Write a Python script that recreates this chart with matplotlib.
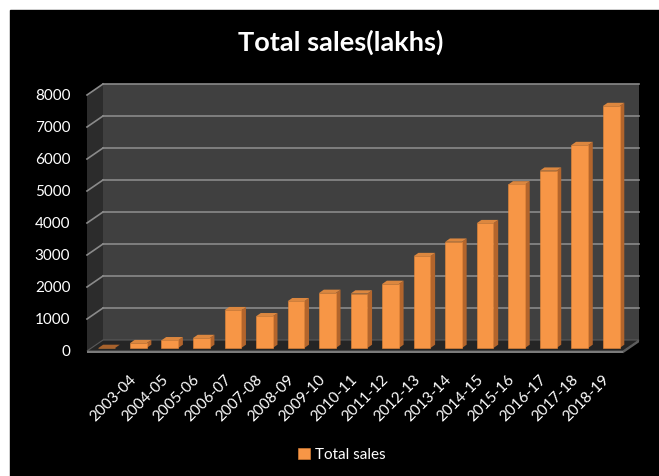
import matplotlib
matplotlib.use("Agg")
import matplotlib.pyplot as plt
from matplotlib.patches import Polygon, Rectangle
import numpy as np

plt.rcParams['font.family'] = ['Lato', 'DejaVu Sans']

title = "Total sales(lakhs)"
series_name = "Total sales"
categories = ["", "2003-04", "2004-05", "2005-06", "2006-07", "2007-08", "2008-09",
              "2009-10", "2010-11", "2011-12", "2012-13", "2013-14", "2014-15",
              "2015-16", "2016-17", "2017-18", "2018-19"]
values = [0, 150, 240, 310, 1180, 990, 1460, 1720, 1700, 2000, 2870, 3320,
          3900, 5110, 5540, 6340, 7560]
y_ticks = [0, 1000, 2000, 3000, 4000, 5000, 6000, 7000, 8000]

W, H = 659, 476
fig = plt.figure(figsize=(W / 100, H / 100), dpi=100)
fig.patch.set_facecolor('white')
# black chart area (white margin at left/top)
fig.patches.append(Rectangle((10 / W, 0), (W - 10) / W, (H - 10) / H,
                             transform=fig.transFigure, color='black', zorder=-10))

# front plane axes
L, R, T, B = 87, 623, 95, 351
ax = fig.add_axes([L / W, (H - B) / H, (R - L) / W, (B - T) / H])
ax.set_facecolor('none')
for s in ax.spines.values():
    s.set_visible(False)
n = len(categories)
x = np.arange(n)
ax.set_xlim(-0.5, n - 0.5)
ax.set_ylim(0, 8000)

# pixel -> data scales
px_x = (n) / (R - L)
px_y = 8000 / (B - T)

ddx, ddy = 16 * px_x, 11 * px_y          # depth of chart box
fx, fy = 4 * px_x, 3 * px_y              # bar front face offset
sx, sy = 4.7 * px_x, 3.3 * px_y          # bar depth
bw = 0.53

x0, x1 = -0.5, n - 0.5
# back wall
ax.add_patch(Polygon([(x0 + ddx, ddy), (x1 + ddx, ddy), (x1 + ddx, 8000 + ddy), (x0 + ddx, 8000 + ddy)],
                     closed=True, facecolor='#404040', edgecolor='none', clip_on=False, zorder=1))
# left wall
ax.add_patch(Polygon([(x0, 0), (x0, 8000), (x0 + ddx, 8000 + ddy), (x0 + ddx, ddy)],
                     closed=True, facecolor='#2c2c2c', edgecolor='none', clip_on=False, zorder=1))
# gridlines
for v in y_ticks[1:]:
    ax.plot([x0 + ddx, x1 + ddx], [v + ddy, v + ddy], color='#8a8a8a', lw=1.2, clip_on=False, zorder=2)
    ax.plot([x0, x0 + ddx], [v, v + ddy], color='#8a8a8a', lw=1.2, clip_on=False, zorder=2)
# floor
ax.add_patch(Polygon([(x0, 0), (x1, 0), (x1 + ddx, ddy), (x0 + ddx, ddy)],
                     closed=True, facecolor='#252525', edgecolor='#5a5a5a', lw=0.8, clip_on=False, zorder=2))
slab = 2.3 * px_y
ax.add_patch(Polygon([(x0, 0), (x1, 0), (x1, -slab), (x0, -slab)],
                     closed=True, facecolor='#7a7a7a', edgecolor='none', clip_on=False, zorder=2))
ax.add_patch(Polygon([(x1, 0), (x1 + ddx, ddy), (x1 + ddx, ddy - slab), (x1, -slab)],
                     closed=True, facecolor='#5e5e5e', edgecolor='none', clip_on=False, zorder=2))

# bars
front_col, side_col, top_col = '#F79646', '#B3652C', '#DC873F'
for xi, v in zip(x, values):
    cx = xi + fx
    ax.add_patch(Polygon([(cx + bw / 2, fy), (cx + bw / 2, fy + v), (cx + bw / 2 + sx, fy + v + sy),
                          (cx + bw / 2 + sx, fy + sy)], closed=True, facecolor=side_col,
                         edgecolor='none', clip_on=False, zorder=3))
    ax.add_patch(Polygon([(cx - bw / 2, fy + v), (cx + bw / 2, fy + v), (cx + bw / 2 + sx, fy + v + sy),
                          (cx - bw / 2 + sx, fy + v + sy)], closed=True,
                         facecolor=top_col if v > 0 else '#A8622C',
                         edgecolor='none', clip_on=False, zorder=3))
ax.bar(x + fx, values, width=bw, bottom=fy, color=front_col, label=series_name,
       zorder=4, clip_on=False, edgecolor='#E88838', linewidth=0.4)

# ticks
ax.set_yticks(y_ticks)
ax.set_yticklabels([str(v) for v in y_ticks])
ax.tick_params(axis='y', length=0, pad=12, labelcolor='white', labelsize=11)
ax.set_xticks(x)
ax.set_xticklabels(categories, rotation=45, ha='right', va='center', rotation_mode='anchor')
ax.tick_params(axis='x', length=0, pad=19, labelcolor='white', labelsize=11)

fig.text(340.5 / W, 1 - 42 / H, title, ha='center', va='center', color='white',
         fontsize=19.5, fontweight='bold')

leg = fig.legend(loc='center', bbox_to_anchor=(342 / W, 1 - 455 / H), frameon=False,
                 handlelength=0.75, handleheight=0.75, handletextpad=0.35,
                 fontsize=11, labelcolor='white')

fig.savefig('out.png', dpi=100, facecolor=fig.get_facecolor())
